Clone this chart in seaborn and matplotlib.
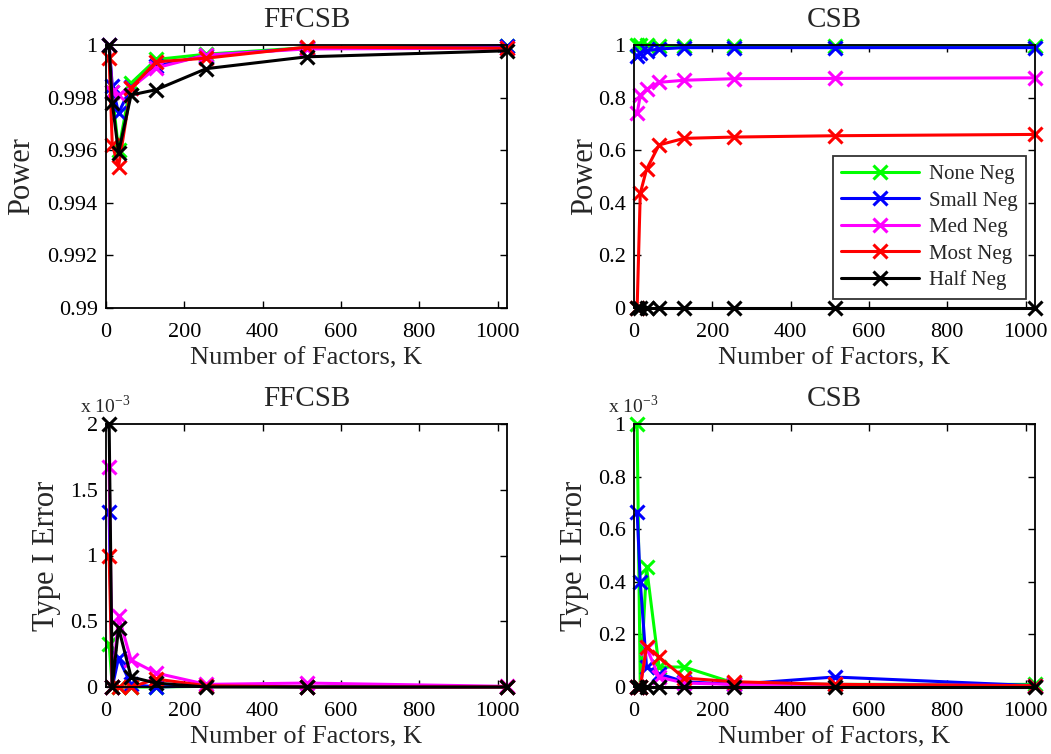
import numpy as np
import pandas as pd
import matplotlib
matplotlib.use("Agg")
import matplotlib.pyplot as plt
from matplotlib.ticker import FuncFormatter, MultipleLocator
import seaborn as sns

# Number of factors screened
factors = [8, 16, 32, 64, 128, 256, 512, 1024]

series_names = ["None Neg", "Small Neg", "Med Neg", "Most Neg", "Half Neg"]
series_colors = ["#00ff00", "#0000ff", "#ff00ff", "#ff0000", "#000000"]

# Power, FFCSB
power_ffcsb_none = [1.0, 0.9982, 0.9960, 0.99855, 0.99945, 0.99965, 0.99990, 0.99995]
power_ffcsb_small = [1.0, 0.99845, 0.99742, 0.9984, 0.9992, 0.9996, 0.99988, 0.99998]
power_ffcsb_med = [1.0, 0.99820, 0.99810, 0.99837, 0.99913, 0.99962, 0.99985, 0.99988]
power_ffcsb_most = [0.9995, 0.99621, 0.99538, 0.99837, 0.99936, 0.9995, 0.99992, 0.99988]
power_ffcsb_half = [1.0, 0.9978, 0.99591, 0.9981, 0.9983, 0.9991, 0.99955, 0.99978]

# Power, CSB
power_csb_none = [1.0, 1.0, 1.0, 0.996, 0.996, 0.996, 0.996, 0.996]
power_csb_small = [0.96, 0.97, 0.978, 0.985, 0.99, 0.99, 0.99, 0.99]
power_csb_med = [0.74, 0.808, 0.831, 0.858, 0.866, 0.872, 0.873, 0.875]
power_csb_most = [0.0, 0.436, 0.527, 0.62, 0.645, 0.65, 0.655, 0.66]
power_csb_half = [0.0, 0.0, 0.0, 0.0, 0.0, 0.0, 0.0, 0.0]

# Type I error, FFCSB
type1_ffcsb_none = [0.33e-3, 0.0, 0.0, 0.0, 0.0, 0.005e-3, 0.0, 0.0]
type1_ffcsb_small = [1.33e-3, 0.0, 0.22e-3, 0.02e-3, 0.0, 0.01e-3, 0.0, 0.0]
type1_ffcsb_med = [1.67e-3, 0.0, 0.54e-3, 0.205e-3, 0.106e-3, 0.02e-3, 0.03e-3, 0.005e-3]
type1_ffcsb_most = [1.0e-3, 0.0, 0.0, 0.0, 0.06e-3, 0.01e-3, 0.0, 0.0]
type1_ffcsb_half = [2.0e-3, 0.0, 0.45e-3, 0.076e-3, 0.03e-3, 0.0, 0.0, 0.0]

# Type I error, CSB
type1_csb_none = [1.0e-3, 0.0, 0.456e-3, 0.076e-3, 0.076e-3, 0.015e-3, 0.01e-3, 0.01e-3]
type1_csb_small = [0.667e-3, 0.40e-3, 0.076e-3, 0.05e-3, 0.02e-3, 0.01e-3, 0.038e-3, 0.005e-3]
type1_csb_med = [0.0, 0.0, 0.15e-3, 0.038e-3, 0.015e-3, 0.01e-3, 0.01e-3, 0.005e-3]
type1_csb_most = [0.0, 0.0, 0.152e-3, 0.114e-3, 0.034e-3, 0.02e-3, 0.01e-3, 0.005e-3]
type1_csb_half = [0.0, 0.0, 0.0, 0.0, 0.0, 0.0, 0.0, 0.0]

panels = [
    ("FFCSB", "Power", [power_ffcsb_none, power_ffcsb_small, power_ffcsb_med,
                        power_ffcsb_most, power_ffcsb_half]),
    ("CSB", "Power", [power_csb_none, power_csb_small, power_csb_med,
                      power_csb_most, power_csb_half]),
    ("FFCSB", "Type I Error", [type1_ffcsb_none, type1_ffcsb_small, type1_ffcsb_med,
                               type1_ffcsb_most, type1_ffcsb_half]),
    ("CSB", "Type I Error", [type1_csb_none, type1_csb_small, type1_csb_med,
                             type1_csb_most, type1_csb_half]),
]

sns.set_style("ticks")
plt.rcParams.update({
    "font.family": ["Liberation Serif", "DejaVu Serif"],
    "mathtext.fontset": "custom",
    "mathtext.rm": "Liberation Serif",
    "xtick.direction": "in",
    "ytick.direction": "in",
    "xtick.top": True,
    "ytick.right": True,
    "xtick.major.size": 5,
    "ytick.major.size": 5,
    "xtick.major.width": 1.0,
    "ytick.major.width": 1.0,
    "axes.linewidth": 1.3,
    "axes.edgecolor": "black",
    "xtick.color": "black",
    "ytick.color": "black",
})

fig = plt.figure(figsize=(10.51, 7.54), dpi=100)
W, H = 1051, 754
boxes = [(106, 45), (634, 45), (106, 424), (634, 424)]
ax_w, ax_h = 401, 263

ylims = [(0.99, 1.0), (0.0, 1.0), (0.0, 2e-3), (0.0, 1e-3)]
ysteps = [0.002, 0.2, 0.5e-3, 0.2e-3]
# horizontal anchor of each y label, in axes fractions
ylabel_x = [-0.175, -0.088, -0.112, -0.112]

for idx, ((title, ylabel, values), (px, py)) in enumerate(zip(panels, boxes)):
    ax = fig.add_axes([px / W, 1 - (py + ax_h) / H, ax_w / W, ax_h / H])
    for name, color, vals in zip(series_names, series_colors, values):
        df = pd.DataFrame({"K": factors, "val": vals})
        sns.lineplot(data=df, x="K", y="val", ax=ax, color=color, label=name,
                     marker="x", markersize=10, markeredgewidth=2.2,
                     markeredgecolor=color, linewidth=2.2, clip_on=False,
                     legend=False)
    ax.set_xlim(0, 1024)
    ax.set_ylim(*ylims[idx])
    ax.xaxis.set_major_locator(MultipleLocator(200))
    ax.yaxis.set_major_locator(MultipleLocator(ysteps[idx]))
    if idx >= 2:
        ax.yaxis.set_major_formatter(FuncFormatter(lambda v, p: f"{v / 1e-3:g}"))
        ax.text(-0.066, 1.026, r"x 10$^{-3}$", transform=ax.transAxes,
                fontsize=14, ha="left", va="bottom")
    else:
        ax.yaxis.set_major_formatter(FuncFormatter(lambda v, p: f"{round(v, 6):g}"))
    ax.tick_params(axis="y", labelsize=16, pad=6)
    ax.tick_params(axis="x", labelsize=16, pad=11)
    ax.set_title(title, fontsize=21, pad=13)
    ax.set_xlabel("Number of Factors, K", fontsize=19, labelpad=4)
    ax.set_ylabel(ylabel, fontsize=22)
    ax.yaxis.set_label_coords(ylabel_x[idx], 0.5)
    for s in ax.spines.values():
        s.set_visible(True)
    if idx == 1:
        leg = ax.legend(loc="lower right", fontsize=15, frameon=True,
                        fancybox=False, edgecolor="black", handlelength=3.75,
                        borderaxespad=0.45, labelspacing=0.33, handletextpad=0.45,
                        borderpad=0.4)
        leg.get_frame().set_linewidth(1.3)

fig.savefig("out.png", dpi=100)
